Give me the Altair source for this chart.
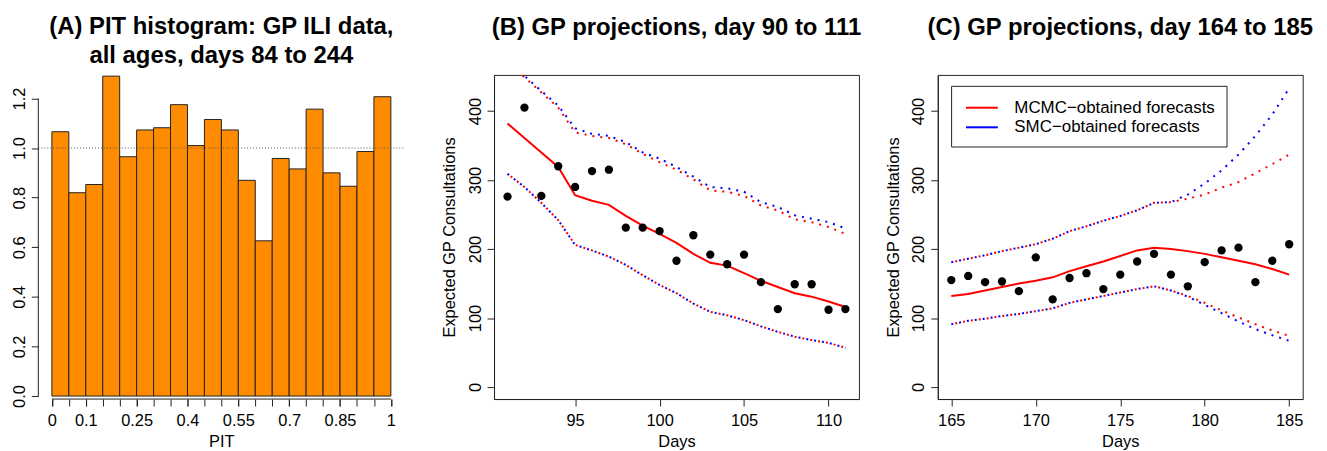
import altair as alt
import pandas as pd

FONT = "Liberation Sans"
INK = "#000000"
LINE = "#222222"

# ---------------- Panel A: PIT histogram ----------------
pit_bin_left = [0.00, 0.05, 0.10, 0.15, 0.20, 0.25, 0.30, 0.35, 0.40, 0.45,
                0.50, 0.55, 0.60, 0.65, 0.70, 0.75, 0.80, 0.85, 0.90, 0.95]
pit_bin_right = [0.05, 0.10, 0.15, 0.20, 0.25, 0.30, 0.35, 0.40, 0.45, 0.50,
                 0.55, 0.60, 0.65, 0.70, 0.75, 0.80, 0.85, 0.90, 0.95, 1.00]
pit_density = [1.066, 0.820, 0.853, 1.290, 0.965, 1.073, 1.082, 1.175, 1.010, 1.115,
               1.073, 0.870, 0.626, 0.958, 0.916, 1.157, 0.900, 0.846, 0.986, 1.207]
pit_ticks = [0.0, 0.05, 0.1, 0.15, 0.2, 0.25, 0.3, 0.35, 0.4, 0.45, 0.5,
             0.55, 0.6, 0.65, 0.7, 0.75, 0.8, 0.85, 0.9, 0.95, 1.0]
pit_labelled_ticks = [0.0, 0.1, 0.25, 0.4, 0.55, 0.7, 0.85, 1.0]
pit_yticks = [0.0, 0.2, 0.4, 0.6, 0.8, 1.0, 1.2]
pit_reference = [1.0]
pit_xaxis_span = [0.0, 1.0]
pit_yaxis_span = [0.0, 1.2]
pit_xlim = [-0.04, 1.0717]
pit_ylim = [-0.012, 1.295]

# ---------------- Panel B: days 91..111 ----------------
days_b = list(range(91, 112))
obs_b = [276, 405, 277, 320, 290, 313, 315, 231, 231, 226, 183,
         220, 192, 178, 192, 152, 113, 149, 149, 112, 113]
mcmc_med_b = [382, 361, 340, 319, 278, 270, 264, 248, 234, 222, 209,
              193, 180, 176, 165, 154, 145, 136, 131, 124, 116]
smc_hi_b = [472, 451, 429, 408, 375, 367, 364, 355, 340, 331, 319,
            305, 290, 288, 283, 268, 261, 249, 244, 239, 230]
mcmc_hi_b = [470, 449, 427, 405, 369, 364, 361, 352, 338, 326, 315,
             301, 285, 283, 277, 263, 256, 243, 239, 232, 222]
smc_lo_b = [309, 290, 267, 242, 206, 198, 189, 177, 162, 148, 136,
            121, 109, 104, 97, 88, 80, 73, 68, 64, 57]
mcmc_lo_b = [309, 290, 267, 242, 206, 198, 189, 177, 162, 148, 136,
             121, 109, 104, 97, 88, 80, 73, 68, 64, 57]

# ---------------- Panel C: days 165..185 ----------------
days_c = list(range(165, 186))
obs_c = [155, 161, 152, 153, 139, 188, 127, 158, 165, 142, 163,
         182, 193, 163, 146, 181, 198, 202, 152, 183, 207]
mcmc_med_c = [132, 135, 140, 145, 150, 154, 159, 168, 175, 182, 190,
              198, 202, 200, 197, 193, 188, 183, 178, 171, 163]
smc_hi_c = [181, 186, 191, 197, 202, 207, 215, 226, 233, 241, 248,
            256, 267, 268, 279, 295, 314, 337, 364, 395, 433]
mcmc_hi_c = [181, 186, 191, 197, 202, 207, 215, 226, 233, 241, 248,
             256, 267, 268, 273, 279, 289, 297, 310, 323, 337]
smc_lo_c = [91, 96, 99, 103, 106, 110, 114, 122, 127, 132, 137,
            142, 146, 140, 131, 119, 107, 95, 84, 75, 67]
mcmc_lo_c = [91, 96, 99, 103, 106, 110, 114, 122, 127, 132, 137,
             142, 146, 140, 132, 122, 111, 101, 91, 82, 74]

methods = ["MCMC\u2212obtained forecasts", "SMC\u2212obtained forecasts"]
method_colors = ["#FF0000", "#0000FF"]
gp_yticks = [0, 100, 200, 300, 400]
gp_ylim = [-17.4, 452.4]
b_xticks = [95, 100, 105, 110]
b_xlim = [90.2, 111.8]
c_xticks = [165, 170, 175, 180, 185]
c_xlim = [164.2, 185.8]

W_A, W, H = 379, 367, 326
TICK_FS = 16.5

# ---------------- Panel A build ----------------
df_a = pd.DataFrame({"left": pit_bin_left, "right": pit_bin_right, "density": pit_density})
xA = alt.Scale(domain=pit_xlim, nice=False, zero=False)
yA = alt.Scale(domain=pit_ylim, nice=False, zero=False)

bars = alt.Chart(df_a).mark_rect(fill="#FF8C00", stroke=LINE, strokeWidth=1).encode(
    x=alt.X("left:Q", scale=xA,
            axis=alt.Axis(values=pit_ticks, labels=False, title=None, domain=False,
                          orient="bottom")),
    x2="right:Q",
    y=alt.Y("density:Q", scale=yA,
            axis=alt.Axis(values=pit_yticks, format=".1f", title=None, domain=False,
                          labelAngle=270, labelAlign="center", labelBaseline="bottom")),
    y2=alt.datum(0),
)
ref = alt.Chart(pd.DataFrame({"ref": pit_reference})).mark_rule(
    color="#555555", strokeDash=[1, 2], strokeWidth=1).encode(
    y="ref:Q", x=alt.X(datum=pit_xlim[0], axis=None), x2=alt.datum(1.04))
xline = alt.Chart(pd.DataFrame({"a": [pit_xaxis_span[0]], "b": [pit_xaxis_span[1]]})).mark_rule(
    color=LINE, strokeWidth=1).encode(
    x=alt.X("a:Q", scale=xA,
            axis=alt.Axis(values=pit_labelled_ticks, format=".2~f", title="PIT",
                          domain=False, labelOverlap=False, labelFlush=False,
                          orient="bottom", titleX=184)),
    x2="b:Q", y=alt.datum(pit_ylim[0]))
yline = alt.Chart(pd.DataFrame({"a": [pit_yaxis_span[0]], "b": [pit_yaxis_span[1]]})).mark_rule(
    color=LINE, strokeWidth=1).encode(y="a:Q", y2="b:Q", x=alt.X(datum=pit_xlim[0], axis=None))

title_common = dict(fontSize=24, font=FONT, fontWeight="bold", anchor="middle",
                    frame="group", baseline="alphabetic", color=INK)

panel_a = alt.layer(bars, ref, xline, yline).resolve_axis(x="independent").properties(
    width=W_A, height=H,
    title=alt.TitleParams(["(A) PIT histogram: GP ILI data,", "all ages, days 84 to 244"],
                          offset=-12, lineHeight=29, dx=-5.4, **title_common),
    view=alt.ViewBackground(stroke="transparent"),
)


# ---------------- Panels B/C build ----------------
def gp_panel(days, obs, med, smc_hi, mcmc_hi, smc_lo, mcmc_lo, xlim, xticks, title, legend):
    band = pd.DataFrame({
        "day": days * 4,
        "value": smc_hi + smc_lo + mcmc_hi + mcmc_lo,
        "bound": ["hi"] * len(days) + ["lo"] * len(days) + ["hi"] * len(days) + ["lo"] * len(days),
        "method": ["SMC"] * (2 * len(days)) + ["MCMC"] * (2 * len(days)),
    })
    xs = alt.Scale(domain=xlim, nice=False, zero=False)
    ys = alt.Scale(domain=gp_ylim, nice=False, zero=False)
    xax = alt.Axis(values=xticks, title="Days", labelFlush=False, labelOverlap=False)
    yax = alt.Axis(values=gp_yticks, title="Expected GP Consultations",
                   labelAngle=270, labelAlign="center", labelBaseline="bottom")
    x = alt.X("day:Q", scale=xs, axis=xax)
    y = alt.Y("value:Q", scale=ys, axis=yax)

    blue = alt.Chart(band).transform_filter("datum.method == 'SMC'").mark_line(
        color="#0000FF", strokeWidth=2, strokeDash=[2, 6], strokeDashOffset=0, clip=True
    ).encode(x=x, y=y, detail="bound:N")
    red = alt.Chart(band).transform_filter("datum.method == 'MCMC'").mark_line(
        color="#FF0000", strokeWidth=2, strokeDash=[2, 6], strokeDashOffset=4, clip=True
    ).encode(x=x, y=y, detail="bound:N")

    med_df = pd.DataFrame({"day": days, "value": med, "method": [methods[0]] * len(days)})
    if legend:
        color = alt.Color("method:N",
                          scale=alt.Scale(domain=methods, range=method_colors),
                          legend=alt.Legend(
                              orient="none", legendX=13.4, legendY=11, title=None,
                              symbolType="M-1.6,0H1.6", symbolSize=400, symbolStrokeWidth=2,
                              labelFont=FONT, labelFontSize=17, labelColor=INK, labelLimit=400,
                              strokeColor=LINE, fillColor="white", padding=11,
                              rowPadding=0.7, symbolOffset=9, labelOffset=21.6))
        med_line = alt.Chart(med_df).mark_line(strokeWidth=2, clip=True).encode(
            x=x, y=y, color=color)
    else:
        med_line = alt.Chart(med_df).mark_line(color="#FF0000", strokeWidth=2, clip=True).encode(
            x=x, y=y)

    pts = alt.Chart(pd.DataFrame({"day": days, "value": obs})).mark_circle(
        color="#000000", opacity=1, size=70).encode(x=x, y=y)

    return alt.layer(blue, red, med_line, pts).properties(
        width=W, height=H,
        title=alt.TitleParams(title, offset=16, **title_common),
    )


panel_b = gp_panel(days_b, obs_b, mcmc_med_b, smc_hi_b, mcmc_hi_b, smc_lo_b, mcmc_lo_b,
                   b_xlim, b_xticks, "(B) GP projections, day 90 to 111", False)
panel_c = gp_panel(days_c, obs_c, mcmc_med_c, smc_hi_c, mcmc_hi_c, smc_lo_c, mcmc_lo_c,
                   c_xlim, c_xticks, "(C) GP projections, day 164 to 185", True)

chart = alt.hconcat(
    panel_a, panel_b, panel_c, spacing=79.3, bounds="flush",
    padding={"left": 2.5, "top": 5, "right": 5, "bottom": 5}, background="white",
).resolve_scale(color="independent").resolve_legend(color="independent").configure_view(
    stroke=LINE, strokeWidth=1).configure_axis(
    labelFont=FONT, labelFontSize=TICK_FS, labelColor=INK,
    titleFont=FONT, titleFontSize=TICK_FS, titleFontWeight="normal", titleColor=INK,
    domainColor=LINE, tickColor=LINE, tickSize=7, labelPadding=4, titlePadding=5,
    grid=False, domain=True,
).configure_axisX(labelPadding=7, titlePadding=4).configure_axisY(titlePadding=10)

chart.save("out.html", embed_options={"renderer": "svg", "actions": False})
